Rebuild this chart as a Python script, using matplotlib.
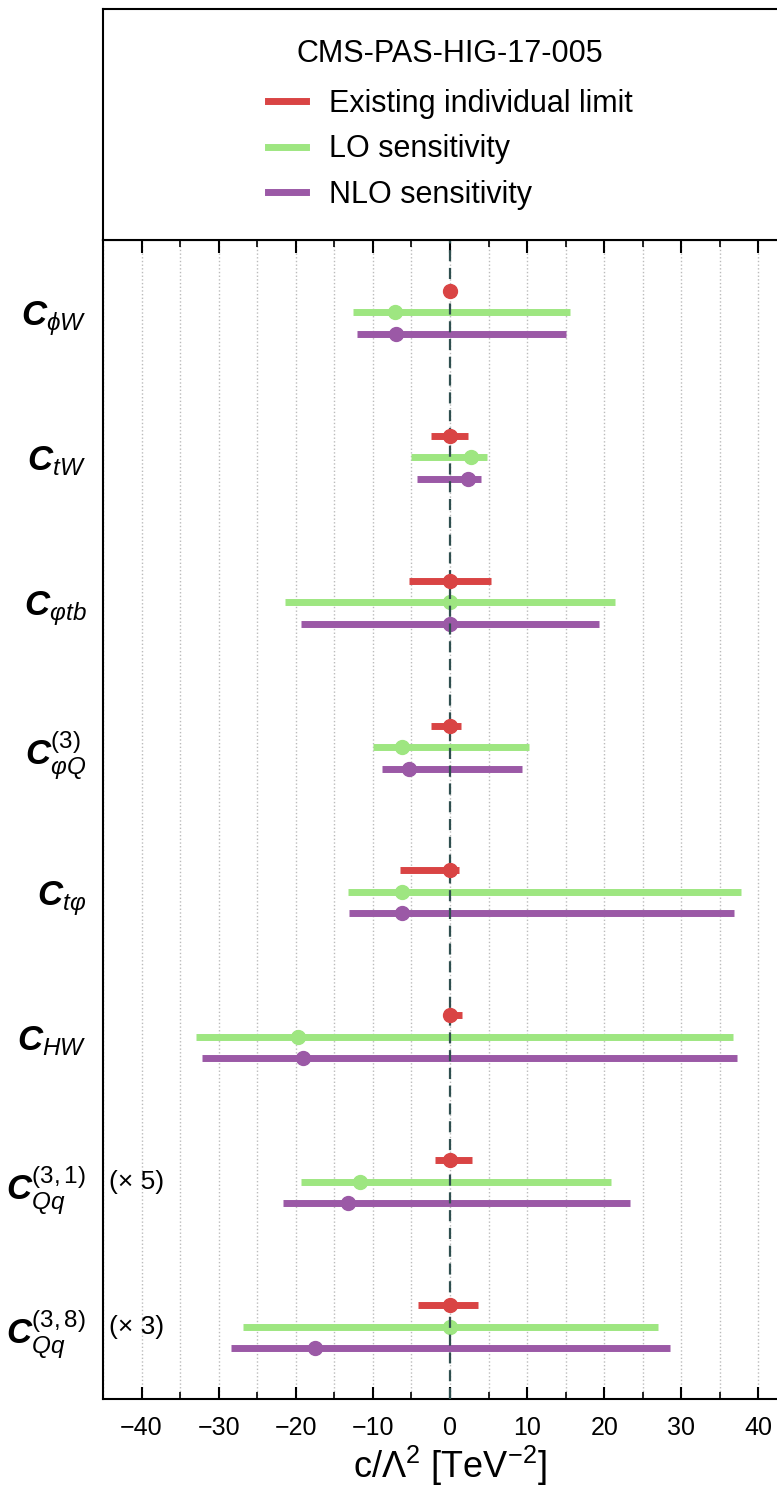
import matplotlib
matplotlib.use('Agg')
import matplotlib.pyplot as plt
from matplotlib.lines import Line2D
from matplotlib.ticker import MultipleLocator

plt.rcParams['font.family'] = ['Liberation Sans', 'DejaVu Sans']
plt.rcParams['mathtext.fontset'] = 'custom'
plt.rcParams['mathtext.rm'] = 'Liberation Sans'
plt.rcParams['mathtext.it'] = 'Liberation Sans:italic'
plt.rcParams['mathtext.bf'] = 'Liberation Sans:bold'
plt.rcParams['mathtext.bfit'] = 'Liberation Sans:italic:bold'

# operators (top to bottom)
labels = [r'$\mathbfit{C}_{\phi W}$', r'$\mathbfit{C}_{tW}$', r'$\mathbfit{C}_{\varphi tb}$',
          r'$\mathbfit{C}_{\varphi Q}^{(3)}$', r'$\mathbfit{C}_{t\varphi}$', r'$\mathbfit{C}_{HW}$',
          r'$\mathbfit{C}_{Qq}^{(3,1)}$', r'$\mathbfit{C}_{Qq}^{(3,8)}$']
scale_notes = {6: '(× 5)', 7: '(× 3)'}

# existing individual limits
ex_c = [0, 0, 0, 0, 0, 0, 0, 0]
ex_lo = [-0.4, -2.5, -5.3, -2.5, -6.5, -0.6, -1.9, -4.1]
ex_hi = [0.4, 2.3, 5.3, 1.4, 1.2, 1.5, 2.9, 3.6]
# LO sensitivity
lo_c = [-7.1, 2.7, 0.0, -6.2, -6.2, -19.7, -11.7, 0.0]
lo_lo = [-12.6, -5.1, -21.4, -10.0, -13.2, -32.9, -19.3, -26.9]
lo_hi = [15.5, 4.8, 21.4, 10.2, 37.8, 36.7, 20.9, 27.0]
# NLO sensitivity
nlo_c = [-7.0, 2.3, 0.0, -5.3, -6.2, -19.0, -13.2, -17.5]
nlo_lo = [-12.0, -4.3, -19.3, -8.8, -13.1, -32.1, -21.7, -28.4]
nlo_hi = [15.0, 4.0, 19.3, 9.3, 36.8, 37.2, 23.3, 28.5]

red = '#d94444'
green = '#9ee681'
purple = '#9b59a6'

fig = plt.figure(figsize=(7.77, 15), dpi=100)
# axes run past the right edge, like the cropped original
ax = fig.add_axes([103/777, 1-1399/1500, 694/777, 1159/1500])
top = fig.add_axes([103/777, 1-240/1500, 694/777, 231/1500])

ypos = list(range(len(labels)))
off = 0.148

def draw(c, lo, hi, shift, col, z):
    ys = [y + shift for y in ypos]
    xerr = [[ci - l for ci, l in zip(c, lo)], [h - ci for ci, h in zip(c, hi)]]
    ax.errorbar(c, ys, xerr=xerr, fmt='o', color=col, ms=10, elinewidth=5,
                capsize=0, zorder=z)

draw(lo_c, lo_lo, lo_hi, 0, green, 2)
draw(nlo_c, nlo_lo, nlo_hi, off, purple, 2)
ax.axvline(0, color='#2f4f4f', ls='--', lw=1.6, dashes=(5, 3), zorder=3)
draw(ex_c, ex_lo, ex_hi, -off, red, 4)

for i, s in scale_notes.items():
    ax.text(-44.2, i, s, fontsize=19, va='center', ha='left')

ax.set_xlim(-45, 45)
ax.set_ylim(len(labels) - 0.5, -0.5)
ax.set_yticks(ypos)
ax.set_yticklabels(labels, fontsize=25)
ax.tick_params(axis='y', length=0, pad=12)
ax.xaxis.set_major_locator(MultipleLocator(10))
ax.xaxis.set_minor_locator(MultipleLocator(5))
ax.tick_params(axis='x', which='both', direction='in', top=True, labelsize=18, pad=12)
ax.tick_params(axis='x', which='major', length=9, width=1.5)
ax.tick_params(axis='x', which='minor', length=5, width=1.2)
ax.grid(axis='x', which='both', ls=':', lw=1, color='#bbbbbb')
ax.set_axisbelow(True)
ax.set_xlabel(r'c/$\Lambda^2$ [TeV$^{-2}$]', fontsize=26, labelpad=3)
for sp in ax.spines.values():
    sp.set_linewidth(1.5)

top.set_xticks([])
top.set_yticks([])
for sp in top.spines.values():
    sp.set_linewidth(1.5)
handles = [Line2D([], [], color=red, lw=5), Line2D([], [], color=green, lw=5),
           Line2D([], [], color=purple, lw=5)]
leg = top.legend(handles, ['Existing individual limit', 'LO sensitivity', 'NLO sensitivity'],
                 title='CMS-PAS-HIG-17-005', loc='center', frameon=False, fontsize=22,
                 title_fontsize=22, handlelength=1.25, handletextpad=0.75, labelspacing=0.5)
leg._legend_box.sep = 14

fig.savefig('out.png', dpi=100)
